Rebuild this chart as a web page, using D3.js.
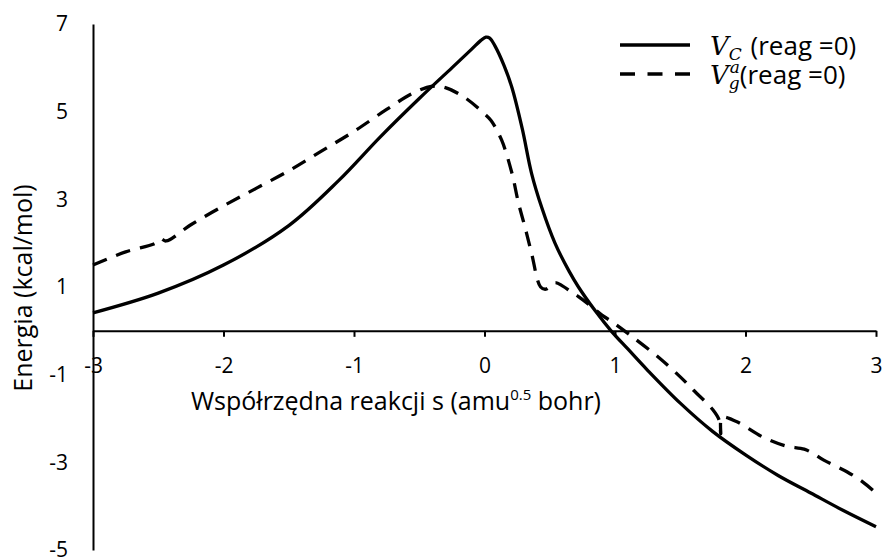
<!DOCTYPE html>
<html>
<head>
<meta charset="utf-8">
<script src="https://cdn.jsdelivr.net/npm/d3@7"></script>
<style>
  body { margin: 0; background: #fff; }
  text { font-family: "Open Sans", sans-serif; fill: #000; }
  .math { font-family: "DejaVu Serif", "Liberation Serif", serif; font-style: italic; }
</style>
</head>
<body>
<svg id="chart" width="883" height="557"></svg>
<script>
// reaction coordinate s and energies
const sVc = [-3.0, -2.5, -2.0, -1.5, -1.12, -0.8, -0.5, -0.25, -0.1, -0.03, 0.01, 0.04,
  0.08, 0.15, 0.21, 0.29, 0.36, 0.44, 0.54, 0.65, 0.72, 0.85, 0.97, 1.1, 1.25, 1.5, 1.75, 2.0, 2.25, 2.5, 2.75, 3.0];
const vVc = [0.41, 0.86, 1.5, 2.4, 3.42, 4.42, 5.3, 6.0, 6.42, 6.62, 6.7, 6.68,
  6.5, 6.05, 5.55, 4.6, 3.6, 2.8, 2.0, 1.35, 1.0, 0.45, 0.0, -0.42, -0.9, -1.65, -2.3, -2.83, -3.3, -3.7, -4.1, -4.47];

const sVg = [-3.0, -2.75, -2.52, -2.48, -2.44, -2.25, -2.0, -1.75, -1.5, -1.25, -1.0, -0.75, -0.55, -0.4, -0.3, -0.15,
  0.0, 0.05, 0.13, 0.21, 0.26, 0.31, 0.36, 0.43, 0.47, 0.54, 0.6, 0.66, 0.72, 0.8, 0.9, 0.98, 1.13, 1.34, 1.5, 1.6,
  1.75, 1.8, 1.81, 1.82, 1.93, 2.13, 2.3, 2.45, 2.52, 2.6, 2.78, 2.9, 3.0];
const vVg = [1.5, 1.8, 2.0, 2.1, 2.05, 2.42, 2.85, 3.25, 3.65, 4.1, 4.55, 5.05, 5.42, 5.58, 5.55, 5.32,
  4.95, 4.8, 4.36, 3.6, 2.92, 2.37, 1.78, 1.0, 0.95, 1.1, 1.02, 0.9, 0.78, 0.6, 0.36, 0.2, -0.13, -0.62, -1.05, -1.35,
  -1.8, -2.05, -2.35, -1.98, -2.07, -2.42, -2.62, -2.7, -2.8, -2.95, -3.22, -3.45, -3.7];

const xTicks = [-3, -2, -1, 0, 1, 2, 3];
const yTicks = [-5, -3, -1, 1, 3, 5, 7];

const svg = d3.select("#chart");

const x = d3.scaleLinear().domain([-3, 3]).range([93, 876]);
const y = d3.scaleLinear().domain([-5, 7]).range([550, 24]);

// x axis sits at energy 0
const xAxis = svg.append("g")
  .attr("transform", `translate(0,${y(0)})`)
  .call(d3.axisBottom(x).tickValues(xTicks).tickSize(6).tickSizeOuter(0).tickPadding(21)
    .tickFormat(d => String(d)));
xAxis.select(".domain").attr("stroke-width", 2);
xAxis.selectAll(".tick line").attr("stroke-width", 2);
xAxis.selectAll("text").style("font-size", "21px");

const yAxis = svg.append("g")
  .attr("transform", `translate(${x(-3)},0)`)
  .call(d3.axisLeft(y).tickValues(yTicks).tickSize(0).tickPadding(25)
    .tickFormat(d => String(d)));
yAxis.select(".domain").attr("stroke-width", 2);
yAxis.selectAll("text").style("font-size", "21px");

// axis titles
const xTitle = svg.append("text")
  .attr("x", 396).attr("y", 410)
  .attr("text-anchor", "middle")
  .style("font-size", "25px");
xTitle.append("tspan").text("Współrzędna reakcji s (amu");
xTitle.append("tspan").attr("dy", -10).style("font-size", "15px").text("0.5");
xTitle.append("tspan").attr("dy", 10).text(" bohr)");

svg.append("text")
  .attr("transform", "translate(32,288) rotate(-90)")
  .attr("text-anchor", "middle")
  .style("font-size", "25px")
  .text("Energia (kcal/mol)");

// curves
const line = (sArr, vArr) => d3.line()
  .x(i => x(sArr[i]))
  .y(i => y(vArr[i]))
  .curve(d3.curveCatmullRom.alpha(0.5))(d3.range(sArr.length));

svg.append("path")
  .attr("d", line(sVc, vVc))
  .attr("fill", "none")
  .attr("stroke", "#000")
  .attr("stroke-width", 3.3);

svg.append("path")
  .attr("d", line(sVg, vVg))
  .attr("fill", "none")
  .attr("stroke", "#000")
  .attr("stroke-width", 3.3)
  .attr("stroke-dasharray", "15,10");

// legend
const legend = svg.append("g").attr("transform", "translate(620,0)");
legend.append("line").attr("x1", 0).attr("x2", 70).attr("y1", 45).attr("y2", 45)
  .attr("stroke", "#000").attr("stroke-width", 3.3);
legend.append("line").attr("x1", 0).attr("x2", 70).attr("y1", 74).attr("y2", 74)
  .attr("stroke", "#000").attr("stroke-width", 3.3).attr("stroke-dasharray", "15,12.5");

const t1 = legend.append("text").attr("x", 90).attr("y", 55).style("font-size", "26px");
t1.append("tspan").attr("class", "math").text("V");
t1.append("tspan").attr("class", "math").attr("dy", 5).style("font-size", "17px").text("C");
t1.append("tspan").attr("dy", -5).attr("dx", 2).text(" (reag =0)");

const t2 = legend.append("text").attr("x", 90).attr("y", 84).style("font-size", "26px");
t2.append("tspan").attr("class", "math").text("V");
t2.append("tspan").attr("class", "math").attr("dy", 5).style("font-size", "17px").text("g");
t2.append("tspan").attr("class", "math").attr("dx", -10).attr("dy", -16).style("font-size", "17px").text("a");
t2.append("tspan").attr("dy", 11).text("(reag =0)");
</script>
</body>
</html>
